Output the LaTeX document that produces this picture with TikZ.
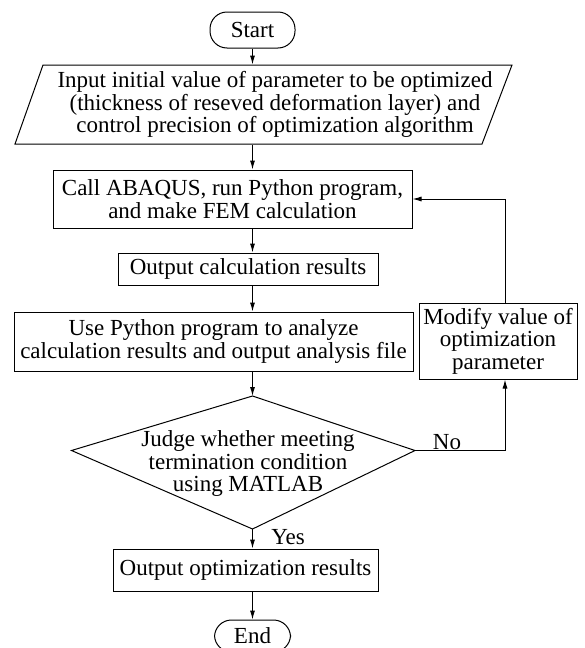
\documentclass[tikz,border=0pt]{standalone}
\usepackage{fontspec}
\setmainfont{Liberation Serif}
\usetikzlibrary{arrows.meta}

\begin{document}
\begin{tikzpicture}[x=1pt,y=1pt,line width=1pt,>={Latex[length=9pt,width=5pt]},font=\fontsize{23}{22.5}\selectfont]
	\tikzstyle{every node}+=[inner sep=0pt,align=center]
	\tikzstyle{box}=[draw=black,rectangle]
	\tikzstyle{term}=[draw=black,rectangle,rounded corners=17pt]
	\useasboundingbox (0,0) rectangle (584,-648);
	\node [term,minimum width=85,minimum height=36] (start) at (252.5,-30) {Start};
	\draw [black] (43,-65) -- (512,-65) -- (482,-144) -- (15,-144) -- cycle;
	\node [minimum height=79] (para) at (275,-104.5) {Input initial value of parameter to be optimized\\(thickness of reseved deformation layer) and\\control precision of optimization algorithm};
	\node [box,minimum width=359,minimum height=58] (call) at (232.5,-199) {Call ABAQUS, run Python program,\\and make FEM calculation};
	\node [box,minimum width=260,minimum height=32] (outcalc) at (248,-269) {Output calculation results};
	\node [box,minimum width=399,minimum height=59] (usepy) at (213.5,-341.5) {Use Python program to analyze\\calculation results and output analysis file};
	\node [box,minimum width=158,minimum height=76] (modify) at (498,-341) {Modify value of\\optimization\\parameter};
	\coordinate (jt) at (252.5,-396);
	\coordinate (jl) at (71.5,-450.5);
	\coordinate (jr) at (415,-450.5);
	\coordinate (jb) at (252.5,-529);
	\draw [black] (jt) -- (jr) -- (jb) -- (jl) -- cycle;
	\node (judge) at (248,-463.5) {Judge whether meeting\\termination condition\\using MATLAB};
	\node [box,minimum width=265,minimum height=42] (outopt) at (245.5,-570) {Output optimization results};
	\node [term,minimum width=76,minimum height=32] (end) at (252.5,-636) {End};
	\node (yes) at (288,-537) {Yes};
	\node (no) at (447,-442) {No};
	\draw [black,->] (start) -- (start |- para.north);
	\draw [black,->] (start |- para.south) -- (start |- call.north);
	\draw [black,->] (start |- call.south) -- (start |- outcalc.north);
	\draw [black,->] (start |- outcalc.south) -- (start |- usepy.north);
	\draw [black,->] (start |- usepy.south) -- (jt);
	\draw [black,->] (jb) -- (start |- outopt.north);
	\draw [black,->] (start |- outopt.south) -- (end);
	\draw [black,->] (jr) -| ([xshift=7]modify.south);
	\draw [black,->] ([xshift=7]modify.north) |- (call.east);
\end{tikzpicture}
\end{document}
